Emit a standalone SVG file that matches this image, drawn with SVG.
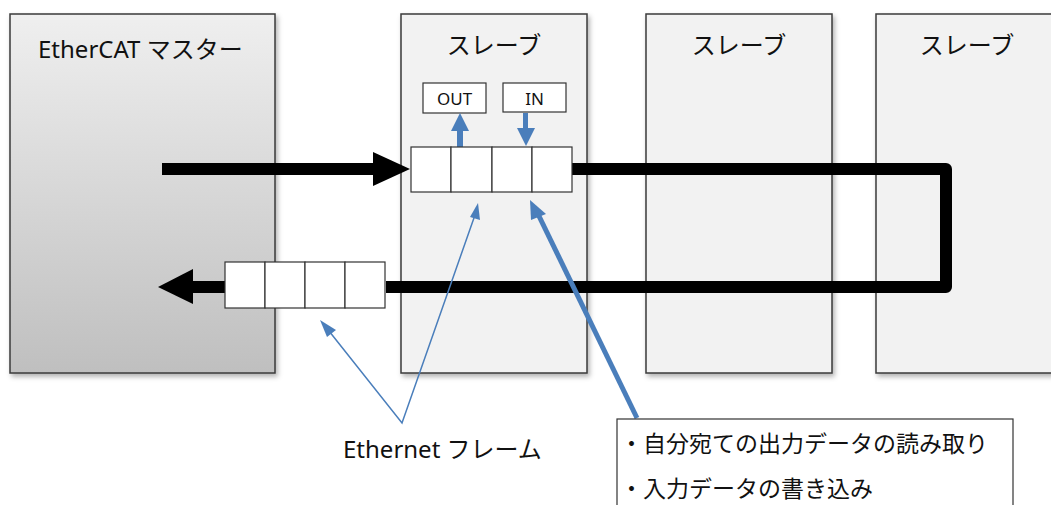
<svg xmlns="http://www.w3.org/2000/svg" width="1051" height="505" viewBox="0 0 1051 505">
  <style>
    .box { stroke: #3a3a3a; stroke-width: 1.5; filter: url(#shadow); }
    .slave { fill: #f2f2f2; }
    .title { font-family: "Noto Sans", "Noto Sans CJK JP", sans-serif; font-size: 24px; fill: #111; }
    .cell { fill: #ffffff; stroke: #333; stroke-width: 1.2; }
    .tag { fill: #ffffff; stroke: #333; stroke-width: 1.2; }
    .tagtext { font-family: "Noto Sans", "Noto Sans CJK JP", sans-serif; font-size: 17px; fill: #111; text-anchor: middle; }
    .bus { fill: none; stroke: #000; stroke-width: 12; stroke-linejoin: round; }
    .blue { fill: none; stroke: #4a7ebb; }
    .label { font-family: "Noto Sans", "Noto Sans CJK JP", sans-serif; fill: #111; }
  </style>
  <defs>
    <linearGradient id="masterFill" x1="0" y1="0" x2="0" y2="1">
      <stop offset="0" stop-color="#efefef"/>
      <stop offset="1" stop-color="#bfbfbf"/>
    </linearGradient>
    <filter id="shadow" x="-5%" y="-5%" width="115%" height="115%">
      <feDropShadow dx="2" dy="3" stdDeviation="2.5" flood-color="#000" flood-opacity="0.3"/>
    </filter>
  </defs>

  <rect width="1051" height="505" fill="#ffffff"/>

  <!-- master -->
  <g id="master">
    <rect class="box" x="10" y="14" width="265" height="359" fill="url(#masterFill)"/>
    <text class="title" x="38" y="58">EtherCAT マスター</text>
  </g>

  <!-- slaves -->
  <g id="slave1">
    <rect class="box slave" x="401" y="14" width="186" height="359"/>
    <text class="title" x="494" y="54" text-anchor="middle">スレーブ</text>
  </g>
  <g id="slave2">
    <rect class="box slave" x="646" y="14" width="186" height="359"/>
    <text class="title" x="739" y="54" text-anchor="middle">スレーブ</text>
  </g>
  <g id="slave3">
    <rect class="box slave" x="876" y="14" width="190" height="359"/>
    <text class="title" x="967" y="54" text-anchor="middle">スレーブ</text>
  </g>

  <!-- process data tags -->
  <g id="out-tag">
    <rect class="tag" x="423" y="83" width="63" height="30"/>
    <text class="tagtext" x="454.5" y="105">OUT</text>
  </g>
  <g id="in-tag">
    <rect class="tag" x="503" y="83" width="63" height="29"/>
    <text class="tagtext" x="534.5" y="105">IN</text>
  </g>

  <!-- connectors -->
  <g id="connectors">
    <!-- frame path through the slaves -->
    <path class="bus" d="M572,169 H946 V287 H386"/>
    <line x1="162" y1="169" x2="376" y2="169" stroke="#000" stroke-width="12"/>
    <polygon points="373,152 410,169 373,186" fill="#000"/>
    <line x1="225" y1="287" x2="190" y2="287" stroke="#000" stroke-width="12"/>
    <polygon points="193,269 158,287 193,304" fill="#000"/>

    <!-- OUT / IN transfers -->
    <rect x="457" y="130" width="6" height="17" fill="#4a7ebb"/>
    <polygon points="451,131 460,113 469,131" fill="#4a7ebb"/>
    <rect x="523" y="113" width="5" height="16" fill="#4a7ebb"/>
    <polygon points="517,128 535,128 526,146" fill="#4a7ebb"/>

    <!-- callout leaders -->
    <polyline class="blue" stroke-width="1.5" points="329,331 402,423 475,215"/>
    <polygon points="320,320 336,330 327,337" fill="#4a7ebb"/>
    <polygon points="478,203 480,220 470,217" fill="#4a7ebb"/>
    <line class="blue" stroke-width="5" x1="637" y1="418" x2="538" y2="214"/>
    <polygon points="530,200 546,214 531,220" fill="#4a7ebb"/>
  </g>

  <!-- frame cells (top: in slave, bottom: returning to master) -->
  <g id="frame-in-slave">
    <rect class="cell" x="411" y="147" width="40" height="45"/>
    <rect class="cell" x="451" y="147" width="41" height="45"/>
    <rect class="cell" x="492" y="147" width="40" height="45"/>
    <rect class="cell" x="532" y="147" width="40" height="45"/>
  </g>
  <g id="frame-return">
    <rect class="cell" x="225" y="262" width="40" height="46"/>
    <rect class="cell" x="265" y="262" width="40" height="46"/>
    <rect class="cell" x="305" y="262" width="40" height="46"/>
    <rect class="cell" x="345" y="262" width="40" height="46"/>
  </g>

  <!-- labels -->
  <g id="frame-label">
    <text class="label" x="343" y="458" font-size="24">Ethernet フレーム</text>
  </g>
  <g id="note">
    <rect x="617" y="419" width="396" height="95" fill="#ffffff" stroke="#333" stroke-width="1.2"/>
    <text class="label" x="620" y="452" font-size="23">・自分宛ての出力データの読み取り</text>
    <text class="label" x="620" y="497" font-size="23">・入力データの書き込み</text>
  </g>
</svg>
